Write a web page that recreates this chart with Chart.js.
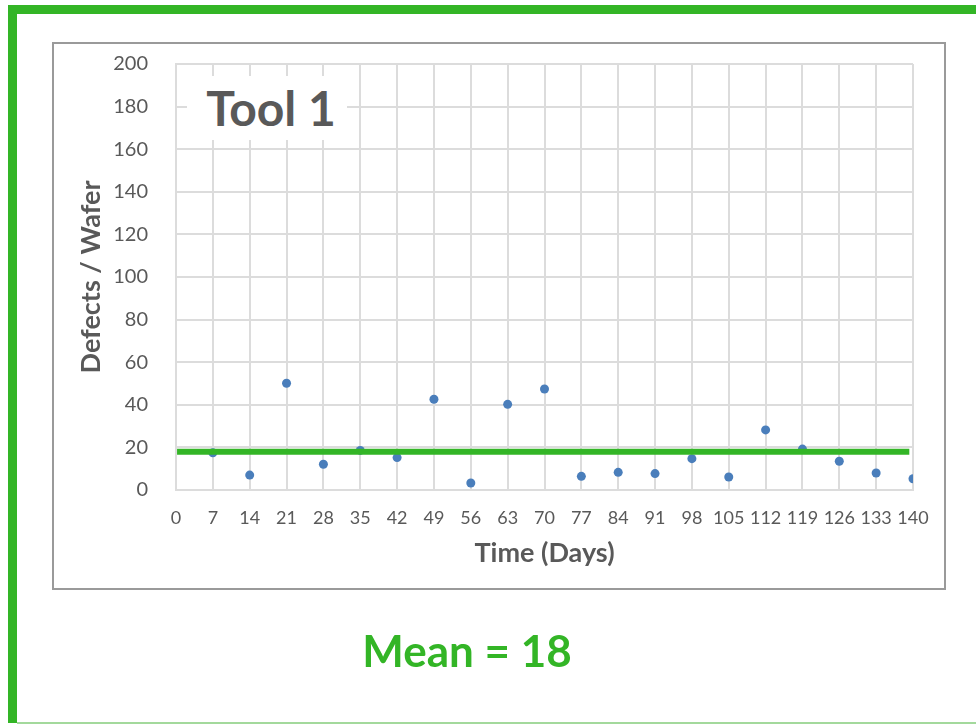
<!DOCTYPE html>
<html>
<head>
<meta charset="utf-8">
<script src="https://cdn.jsdelivr.net/npm/chart.js@4"></script>
<style>
  body { margin: 0; width: 976px; height: 724px; position: relative; background: #fff; overflow: hidden; font-family: Lato, sans-serif; }
  .frame { position: absolute; left: 8px; top: 5px; width: 976px; height: 718px; border-top: 9px solid #33b526; border-left: 9px solid #33b526; box-sizing: border-box; }
  .frame-bottom { position: absolute; left: 17px; top: 722px; width: 959px; height: 2px; background: #a3d99c; }
  .chart-box { position: absolute; left: 52px; top: 42px; width: 894px; height: 548px; border: 2px solid #9a9a9a; box-sizing: border-box; }
  #myChart { position: absolute; left: 0; top: 0; }
  .tool-label { position: absolute; left: 187px; top: 76px; width: 160px; height: 64px; padding-left: 8px; box-sizing: border-box; background: #fff; color: #595959; font-weight: bold; font-size: 48px; line-height: 64px; text-align: center; }
  .mean-label { position: absolute; left: 267px; top: 622px; width: 400px; text-align: center; color: #33b526; font-weight: bold; font-size: 44px; line-height: 56px; }
</style>
</head>
<body>
<div class="frame"></div>
<div class="frame-bottom"></div>
<div class="chart-box"></div>
<canvas id="myChart" width="976" height="724"></canvas>
<div class="tool-label">Tool 1</div>
<div class="mean-label"></div>
<script>
  // sample day and defect count per wafer
  const days = [7, 14, 21, 28, 35, 42, 49, 56, 63, 70, 77, 84, 91, 98, 105, 112, 119, 126, 133, 140];
  const defects = [17.5, 7.0, 50.1, 12.1, 18.6, 15.2, 42.6, 3.3, 40.2, 47.4, 6.4, 8.3, 7.7, 14.7, 6.1, 28.2, 19.2, 13.5, 8.0, 5.3];
  const meanValue = 18;
  const meanSpan = [0.2, 139.3];

  const xMax = 140;
  const xStep = 7;
  const yMax = 200;
  const yStep = 20;

  const gray = "#595959";
  const gridColor = "#dcdcdc";

  document.querySelector(".mean-label").textContent = "Mean = " + meanValue;

  const ctx = document.getElementById("myChart").getContext("2d");

  const chart = new Chart(ctx, {
    type: "scatter",
    data: {
      datasets: [
        {
          label: "Defects",
          data: days.map((d, i) => ({ x: d, y: defects[i] })),
          backgroundColor: "#4a7ebb",
          borderWidth: 0,
          pointRadius: 4.5,
          order: 2,
        },
        {
          type: "line",
          label: "Mean",
          data: meanSpan.map((x) => ({ x: x, y: meanValue })),
          borderColor: "#33b526",
          borderWidth: 6,
          borderCapStyle: "butt",
          pointRadius: 0,
          fill: false,
          order: 1,
        },
      ],
    },
    options: {
      responsive: false,
      animation: false,
      layout: {
        padding: { left: 52, right: 63, top: 64, bottom: 144 },
      },
      plugins: {
        legend: { display: false },
        tooltip: { enabled: false },
      },
      scales: {
        x: {
          type: "linear",
          min: 0,
          max: xMax,
          afterFit: (scale) => { scale.height = 90; },
          ticks: {
            stepSize: xStep,
            autoSkip: false,
            maxRotation: 0,
            minRotation: 0,
            color: gray,
            padding: 17,
            font: { family: "Lato", size: 18 },
          },
          grid: { color: gridColor, lineWidth: 2, drawTicks: false },
          border: { color: gridColor, width: 2 },
          title: {
            display: true,
            text: "Time (Days)",
            color: gray,
            font: { family: "Lato", size: 27, weight: "bold" },
            padding: { top: 0, bottom: 11 },
          },
        },
        y: {
          min: 0,
          max: yMax,
          afterFit: (scale) => { scale.width = 124; },
          ticks: { stepSize: yStep, color: gray, padding: 28, font: { family: "Lato", size: 20 } },
          grid: { color: gridColor, lineWidth: 2, drawTicks: false },
          border: { color: gridColor, width: 2 },
          title: {
            display: true,
            text: "Defects / Wafer",
            color: gray,
            font: { family: "Lato", size: 27, weight: "bold" },
            padding: { top: 23, bottom: 0 },
          },
        },
      },
    },
  });
</script>
</body>
</html>
